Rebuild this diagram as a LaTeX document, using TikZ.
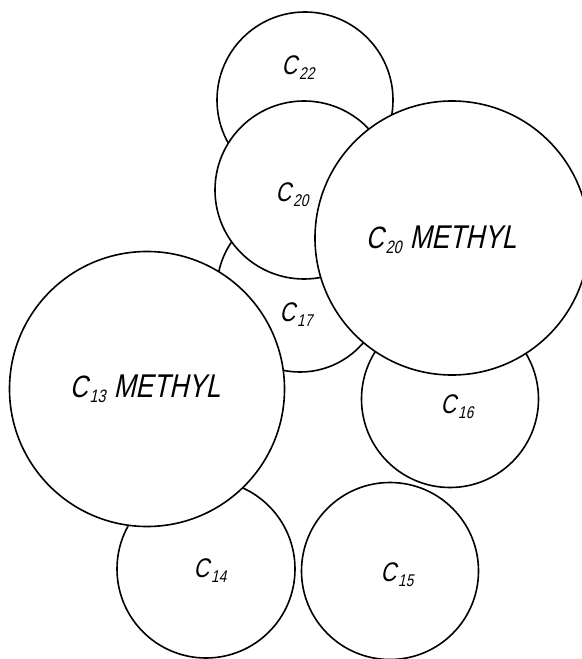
\documentclass[tikz,border=0pt]{standalone}
\usepackage{fontspec}
\newfontfamily\handfont[FakeStretch=0.8,FakeSlant=0.22]{Liberation Sans}
\newcommand\cl[3]{{\fontsize{#1}{#1}\selectfont C\hspace{2bp}\raisebox{-5bp}{\fontsize{#2}{#2}\selectfont #3}}}
\begin{document}
\begin{tikzpicture}[x=1bp,y=-1bp,
  ball/.style={circle,draw=black,fill=white,line width=1.6bp,inner sep=0pt,outer sep=0pt},
  lab/.style={font=\handfont,inner sep=0pt,text=black}]
\useasboundingbox (0,0) rectangle (582,659);
% back to front
\node[ball,minimum size=176bp] (c22) at (305,100) {};
\node[ball,minimum size=166bp] (c17) at (300,289) {};
\node[ball,minimum size=177bp] (c16) at (450,399) {};
\node[ball,minimum size=178bp] (c14) at (206,569) {};
\node[ball,minimum size=177bp] (c15) at (390,571) {};
\node[ball,minimum size=178bp] (c20) at (304,190) {};
\node[ball,minimum size=274bp] (c20m) at (452,238) {};
\node[ball,minimum size=275bp] (c13m) at (147,389) {};
% labels
\node[lab] (l22) at (298,68) {\cl{27}{17}{22}};
\node[lab] (l20) at (292,195) {\cl{27}{17}{20}};
\node[lab] (l17) at (296,315) {\cl{27}{17}{17}};
\node[lab] (l16) at (457,407) {\cl{27}{17}{16}};
\node[lab] (l14) at (210,571) {\cl{27}{17}{14}};
\node[lab] (l15) at (397,575) {\cl{27}{17}{15}};
\node[lab] (l20m) at (441,240) {\cl{31}{18}{20}\hspace{8bp}{\fontsize{33}{33}\selectfont METHYL}};
\node[lab] (l13m) at (145,389) {\cl{31}{18}{13}\hspace{8bp}{\fontsize{33}{33}\selectfont METHYL}};
\end{tikzpicture}
\end{document}
